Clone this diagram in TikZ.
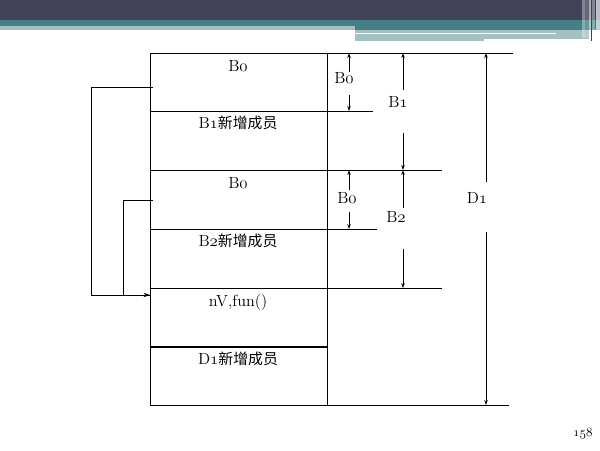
\documentclass[tikz,border=0pt]{standalone}
\usepackage{fontspec}
\usepackage{xcolor}
\usetikzlibrary{arrows.meta}
\newfontfamily\cjk[Scale=0.92]{Noto Sans CJK SC}
\newcommand\osnum[1]{{\usefont{OML}{cmm}{m}{it}#1}}
\definecolor{hdark}{HTML}{41425A}
\definecolor{hteal}{HTML}{437F84}
\definecolor{hlight}{HTML}{A5C0C3}

\begin{document}
\begin{tikzpicture}[x=0.025cm,y=-0.025cm,line width=0.65pt,
  every node/.style={font=\fontsize{11.5}{13}\selectfont},
  dim/.style={-{Stealth[length=3.5pt,width=2.5pt]}},
  ptr/.style={-{Stealth[length=4.5pt,width=3pt]}}]
\useasboundingbox (0,0) rectangle (600,450);
% slide header
\fill[hdark] (0,0) rectangle (600,20);
\fill[hteal] (0,20) rectangle (600,26);
\fill[hteal] (355,26) rectangle (600,30);
\fill[hlight] (0,26) rectangle (355,30);
\fill[hlight] (355,30) rectangle (589,39);
\fill[hlight] (355,39) rectangle (484,41);
\fill[white] (355,33) rectangle (556,34);
\fill[white,opacity=.35] (582,0) rectangle (585,38);
\fill[white,opacity=.2] (585,0) rectangle (589,38);
\fill[white,opacity=.55] (589,0) rectangle (591,41);
\fill[hdark] (591,0) rectangle (592,41);
\fill[white,opacity=.35] (592,0) rectangle (595,41);
\fill[white,opacity=.65] (596,0) rectangle (600,41);
% object layout
\draw (150,53) rectangle (327,405);
\foreach \y/\xe [count=\i] in {53/513,111/373,170/442,229/377,288/442,405/509}
  \draw (150,\y) coordinate (row\i) -- (\xe,\y);
\draw[line width=1.4pt] (150,347) coordinate (row7) -- (327,347);
\node (cB0a) at (238,66) {B\osnum{0}};
\node (cB1) at (238,123) {B\osnum{1}{\cjk 新增成员}};
\node (cB0b) at (238,183) {B\osnum{0}};
\node (cB2) at (238,241) {B\osnum{2}{\cjk 新增成员}};
\node (cV) at (238,302) {nV,fun()};
\node (cD1) at (238,359) {D\osnum{1}{\cjk 新增成员}};
% pointers to the shared base
\coordinate (vp1) at (153,87);
\coordinate (vp2) at (153,200);
\coordinate (vbase) at (150,295);
\draw[ptr] (vp1) -- (91,87) |- (vbase);
\draw (vp2) -- (123,200) |- (vbase);
% dimension lines
\foreach \n/\x/\ya/\yb/\yc/\yd in {B0a/349/53/72/95/111,B1/403/53/90/133/170,
    B0b/349/170/190/212/229,B2/403/170/208/249/288,D1/486/53/182/232/405} {
  \coordinate (\n-t) at (\x,\ya);
  \coordinate (\n-u) at (\x,\yb);
  \coordinate (\n-l) at (\x,\yc);
  \coordinate (\n-b) at (\x,\yd);
  \draw[dim] (\n-u) -- (\n-t);
  \draw[dim] (\n-l) -- (\n-b);
}
\node (lB0a) at (344,78) {B\osnum{0}};
\node (lB1) at (398,102) {B\osnum{1}};
\node (lB0b) at (347,198) {B\osnum{0}};
\node (lB2) at (396,217) {B\osnum{2}};
\node (lD1) at (477,198) {D\osnum{1}};
\node[font=\fontsize{9.5}{11}\selectfont] (pg) at (583,434) {\osnum{158}};
\end{tikzpicture}
\end{document}
